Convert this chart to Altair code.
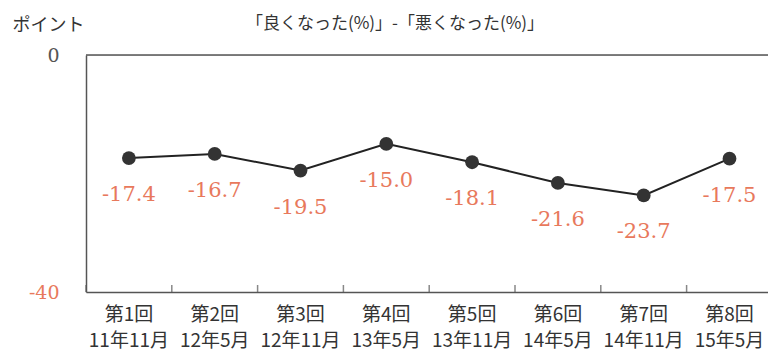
import altair as alt
import pandas as pd

rounds = ["第1回", "第2回", "第3回", "第4回", "第5回", "第6回", "第7回", "第8回"]
dates = ["11年11月", "12年5月", "12年11月", "13年5月", "13年11月", "14年5月", "14年11月", "15年5月"]
values = [-17.4, -16.7, -19.5, -15.0, -18.1, -21.6, -23.7, -17.5]
title_text = "「良くなった(%)」-「悪くなった(%)」"
y_title = "ポイント"

df = pd.DataFrame({
    "cat": [f"{r}|{d}" for r, d in zip(rounds, dates)],
    "value": values,
    "label": [f"{v:.1f}" for v in values],
})
order = list(df["cat"])

jp = "Noto Sans CJK JP"
num_font = "DejaVu Serif"
orange = "#e8795c"
dark = "#333333"
step = 85.8

x_enc = alt.X(
    "cat:N", sort=order,
    scale=alt.Scale(domain=order, range=[0, step * 8], paddingInner=0, paddingOuter=0),
    axis=alt.Axis(
        title=None, labelExpr="split(datum.label, '|')", labelAngle=0,
        labelFont=jp, labelFontSize=19, labelColor="#333333", labelLineHeight=26,
        labelPadding=13, labelOverlap=False, ticks=False, domain=True,
        domainColor="#555555", domainWidth=1.5, labelBound=False, labelFlush=False,
    ),
)
y_scale = alt.Scale(domain=[-40, 0], nice=False, zero=False)
y_enc = alt.Y(
    "value:Q", scale=y_scale,
    axis=alt.Axis(
        values=[0, -40], title=y_title, titleAngle=0, titleFont=jp, titleFontSize=18,
        titleFontWeight="normal", titleColor="#333333", titleX=-38, titleY=-30,
        titleAlign="center", titleBaseline="middle",
        labelFont=num_font, labelFontSize=19, labelPadding=27,
        labelColor=alt.ExprRef("datum.value < 0 ? '%s' : '#555555'" % orange),
        labelExpr="datum.value == 0 ? '0' : '-40'",
        ticks=False, grid=False, domainColor="#555555", domainWidth=1.5,
    ),
)

base = alt.Chart(df)

line = base.mark_line(color="#222222", strokeWidth=2).encode(x=x_enc, y=y_enc)
pts = base.mark_circle(color=dark, opacity=1, size=190).encode(x=x_enc, y=y_enc)
txt = base.mark_text(font=num_font, fontSize=21, color=orange, dy=37).encode(
    x=x_enc, y=y_enc, text="label:N")
top = alt.Chart(pd.DataFrame({"v": [0]})).mark_rule(color="#555555", strokeWidth=1.5).encode(
    y=alt.Y("v:Q", scale=y_scale))
ticks = base.mark_tick(color="#555555", thickness=1.5, size=7, orient="vertical",
                       xOffset=-step / 2, yOffset=-3.5).encode(
    x=x_enc, y=alt.Y("low:Q", scale=y_scale)).transform_calculate(low="-40")
title = alt.Chart(pd.DataFrame({"t": [title_text]})).mark_text(
    font=jp, fontSize=17, color="#333333", align="center", baseline="middle").encode(
    x=alt.value(309), y=alt.value(-31), text="t:N")

chart = alt.layer(top, ticks, line, pts, txt, title).properties(
    width=682, height=237,
    autosize=alt.AutoSizeParams(type="none"),
    padding={"left": 78, "top": 47, "right": 0, "bottom": 60},
).configure_view(stroke=None).configure(background="white")

chart.save("out.html", embed_options={"renderer": "svg", "actions": False})
